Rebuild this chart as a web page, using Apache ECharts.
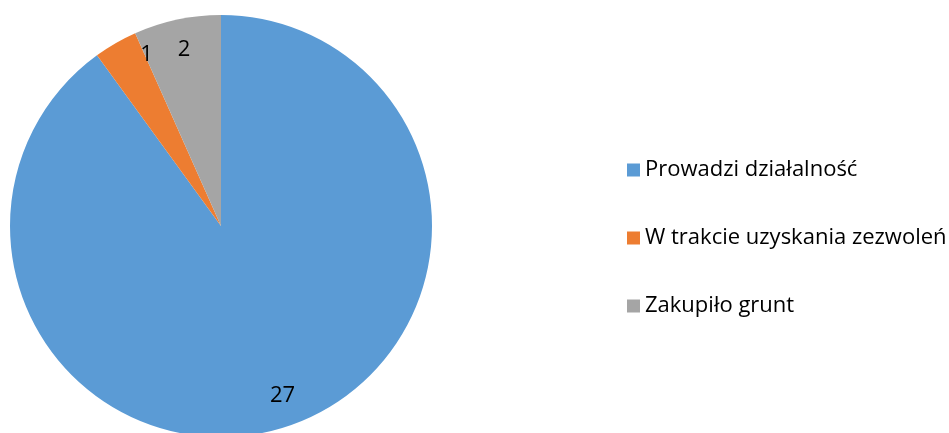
<!DOCTYPE html>
<html>
<head>
<meta charset="utf-8">
<script src="https://cdn.jsdelivr.net/npm/echarts@6/dist/echarts.min.js"></script>
<style>
html,body{margin:0;padding:0;background:#fff;}
#chart{width:949px;height:433px;}
</style>
</head>
<body>
<div id="chart"></div>
<script>
var categories = ['Prowadzi działalność', 'W trakcie uzyskania zezwoleń', 'Zakupiło grunt'];
var values = [27, 1, 2];
var colors = ['#5B9BD5', '#ED7D31', '#A5A5A5'];

var chart = echarts.init(document.getElementById('chart'));
var mainData = categories.map(function (c, i) {
  return { name: c, value: values[i], itemStyle: { color: colors[i] } };
});
var labelOffsets = [[5, -4], [17, -13], [1, 3]];
var labelData = categories.map(function (c, i) {
  return { name: c, value: values[i], label: { offset: labelOffsets[i] } };
});
chart.setOption({
  animation: false,
  legend: {
    orient: 'vertical',
    left: 622,
    top: 154,
    itemWidth: 13,
    itemHeight: 13,
    itemGap: 46,
    icon: 'rect',
    data: categories,
    textStyle: { fontFamily: 'Open Sans', fontSize: 22, lineHeight: 20, color: '#000', padding: [0, 0, 0, 0] }
  },
  series: [
    {
      type: 'pie',
      center: [221, 226],
      radius: [0, 211],
      startAngle: 90,
      clockwise: true,
      silent: true,
      label: { show: false },
      labelLine: { show: false },
      itemStyle: { borderWidth: 0 },
      data: mainData
    },
    {
      type: 'pie',
      center: [221, 226],
      radius: [149, 211],
      startAngle: 90,
      clockwise: true,
      silent: true,
      itemStyle: { color: 'rgba(0,0,0,0)', borderWidth: 0 },
      label: {
        show: true,
        position: 'inside',
        formatter: '{c}',
        fontFamily: 'Open Sans',
        fontSize: 22,
        color: '#000'
      },
      labelLine: { show: false },
      data: labelData
    }
  ]
});
</script>
</body>
</html>
